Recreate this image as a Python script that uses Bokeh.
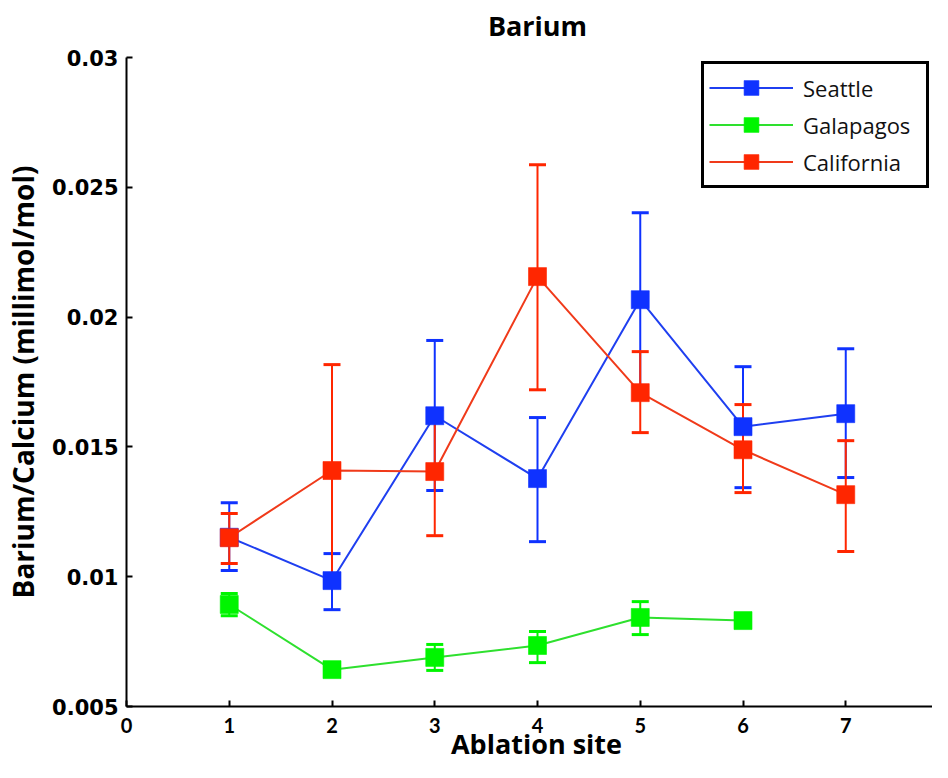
from bokeh.plotting import figure
from bokeh.models import (ColumnDataSource, Whisker, TeeHead, FixedTicker, Legend, LegendItem,
                          Range1d, Label)
from bokeh.embed import file_html
from bokeh.resources import INLINE

# ---- data ----
sites = [1, 2, 3, 4, 5, 6, 7]
seattle = [0.01152, 0.00985, 0.0162, 0.01378, 0.02067, 0.01578, 0.01628]
seattle_lo = [0.01024, 0.00873, 0.01332, 0.01135, 0.01732, 0.01343, 0.01382]
seattle_hi = [0.01285, 0.01089, 0.0191, 0.01613, 0.02402, 0.01809, 0.01878]

gal_sites = [1, 2, 3, 4, 5, 6]
galapagos = [0.00893, 0.00642, 0.00689, 0.00735, 0.00843, 0.00831]
galapagos_lo = [0.0085, 0.0062, 0.00639, 0.00669, 0.00777, 0.0081]
galapagos_hi = [0.00935, 0.0066, 0.00739, 0.00789, 0.00904, 0.0085]

california = [0.0115, 0.01409, 0.01405, 0.02156, 0.01709, 0.01489, 0.01316]
california_lo = [0.01051, 0.00997, 0.01158, 0.0172, 0.01555, 0.01324, 0.01097]
california_hi = [0.01243, 0.01817, 0.01643, 0.02587, 0.01867, 0.01663, 0.01524]

x_ticks = [0, 1, 2, 3, 4, 5, 6, 7]
x_min, x_max = 0, 8
y_ticks = [0.005, 0.01, 0.015, 0.02, 0.025, 0.03]
y_tick_labels = ["0.005", "0.01", "0.015", "0.02", "0.025", "0.03"]
y_min, y_max = 0.005, 0.03

title_text = "Barium"
x_label = "Ablation site"
y_label = "Barium/Calcium (millimol/mol)"

series = [
    ("Seattle", sites, seattle, seattle_lo, seattle_hi, "#0f32ff", "#1f3ff0"),
    ("Galapagos", gal_sites, galapagos, galapagos_lo, galapagos_hi, "#00f500", "#2ee02e"),
    ("California", sites, california, california_lo, california_hi, "#ff2600", "#f03a1a"),
]

# ---- layout (pixels) ----
W, H = 932, 762
AX_LEFT, AX_RIGHT_AT_8 = 126, 948    # where x = 0 and x = 8 sit
AX_TOP, AX_BOTTOM = 57, 706          # where y_max / y_min sit
px_x = (AX_RIGHT_AT_8 - AX_LEFT) / (x_max - x_min)
px_y = (AX_BOTTOM - AX_TOP) / (y_max - y_min)
x_start = x_min - AX_LEFT / px_x
x_end = x_min + (W - AX_LEFT) / px_x
y_start = y_min - (H - AX_BOTTOM) / px_y
y_end = y_max + AX_TOP / px_y

p = figure(width=W, height=H, output_backend="svg", toolbar_location=None,
           x_range=Range1d(x_start, x_end), y_range=Range1d(y_start, y_end),
           min_border_left=0, min_border_right=0, min_border_top=0,
           min_border_bottom=0)

p.outline_line_color = None
p.xgrid.visible = False
p.ygrid.visible = False

for ax in (p.xaxis[0], p.yaxis[0]):
    ax.axis_line_color = "black"
    ax.axis_line_width = 2
    ax.major_tick_line_color = "black"
    ax.major_tick_line_width = 2
    ax.major_tick_in = 6
    ax.major_tick_out = 0
    ax.minor_tick_line_color = None
    ax.axis_label_text_font_style = "bold"
    ax.axis_label_text_color = "black"
    ax.major_label_text_color = "black"
    ax.major_label_text_font_style = "bold"

p.xaxis.ticker = FixedTicker(ticks=x_ticks)
p.xaxis.fixed_location = y_min
p.xaxis.bounds = (x_min, x_end)
p.xaxis.major_label_text_font = "Lato"
p.xaxis.major_label_text_font_size = "20px"
p.xaxis.major_label_standoff = 11

p.yaxis.ticker = FixedTicker(ticks=y_ticks)
p.yaxis.fixed_location = x_min
p.yaxis.bounds = (y_min, y_max)
p.yaxis.major_label_overrides = {t: l for t, l in zip(y_ticks, y_tick_labels)}
p.yaxis.axis_label = y_label
p.yaxis.axis_label_text_font = "Open Sans"
p.yaxis.axis_label_text_font_size = "28px"
p.yaxis.major_label_text_font = "DejaVu Sans"
p.yaxis.major_label_text_font_size = "21px"
p.yaxis.major_label_standoff = 8
p.yaxis.axis_label_standoff = 7

# title and x-axis label, in screen units relative to the frame (frame = whole canvas)
p.add_layout(Label(x=537, y=H - 25, x_units="screen", y_units="screen",
                   text=title_text, text_font="Open Sans", text_font_style="bold",
                   text_font_size="27px", text_align="center", text_baseline="middle",
                   text_color="black"))
p.add_layout(Label(x=536, y=H - 743, x_units="screen", y_units="screen",
                   text=x_label, text_font="Open Sans", text_font_style="bold",
                   text_font_size="27px", text_align="center", text_baseline="middle",
                   text_color="black"))

items = []
for name, xs, ys, lo, hi, mcol, lcol in series:
    src = ColumnDataSource(dict(x=xs, y=ys, lo=lo, hi=hi))
    ln = p.line("x", "y", source=src, line_color=lcol, line_width=2)
    w = Whisker(base="x", lower="lo", upper="hi", source=src,
                line_color=mcol, line_width=2,
                upper_head=TeeHead(size=17, line_color=mcol, line_width=3),
                lower_head=TeeHead(size=17, line_color=mcol, line_width=3))
    p.add_layout(w)
    sc = p.scatter("x", "y", source=src, marker="square", size=18,
                   fill_color=mcol, line_color=mcol, line_alpha=0.6)
    items.append(LegendItem(label=name, renderers=[ln, sc]))

legend = Legend(items=items, location=(701, H - 188))
legend.border_line_color = "black"
legend.border_line_alpha = 1.0
legend.border_line_width = 3
legend.label_text_font = "Open Sans"
legend.label_text_font_size = "22px"
legend.label_text_color = "#111111"
legend.glyph_width = 84
legend.glyph_height = 37
legend.label_height = 20
legend.label_width = 118
legend.spacing = 0
legend.padding = 5
legend.label_standoff = 10
legend.margin = 0
legend.background_fill_color = "white"
p.add_layout(legend, "center")

open("out.html", "w").write(file_html(p, INLINE))
